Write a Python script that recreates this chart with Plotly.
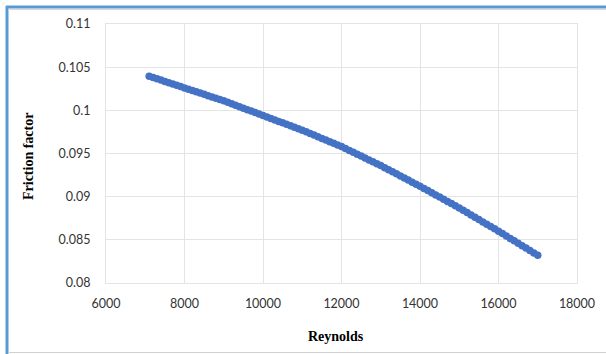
import plotly.graph_objects as go

reynolds = list(range(7100, 17001, 100))
friction = [
    0.10395, 0.10380, 0.10365, 0.10350, 0.10335, 0.10320, 0.10305, 0.10290, 0.10275, 0.10260,
    0.10245, 0.10230, 0.10215, 0.10200, 0.10185, 0.10170, 0.10155, 0.10140, 0.10125, 0.10110,
    0.10093, 0.10076, 0.10059, 0.10042, 0.10025, 0.10008, 0.09991, 0.09974, 0.09957, 0.09940,
    0.09923, 0.09906, 0.09889, 0.09872, 0.09855, 0.09838, 0.09821, 0.09804, 0.09787, 0.09770,
    0.09751, 0.09732, 0.09713, 0.09694, 0.09675, 0.09656, 0.09637, 0.09618, 0.09599, 0.09580,
    0.09558, 0.09536, 0.09514, 0.09492, 0.09470, 0.09448, 0.09426, 0.09404, 0.09382, 0.09360,
    0.09336, 0.09312, 0.09288, 0.09264, 0.09240, 0.09216, 0.09192, 0.09168, 0.09144, 0.09120,
    0.09095, 0.09070, 0.09045, 0.09020, 0.08995, 0.08970, 0.08945, 0.08920, 0.08895, 0.08870,
    0.08843, 0.08816, 0.08789, 0.08762, 0.08735, 0.08708, 0.08681, 0.08654, 0.08627, 0.08600,
    0.08572, 0.08544, 0.08516, 0.08488, 0.08460, 0.08432, 0.08404, 0.08376, 0.08348, 0.08320,
]

x_ticks = [6000, 8000, 10000, 12000, 14000, 16000, 18000]
y_ticks = [0.08, 0.085, 0.09, 0.095, 0.1, 0.105, 0.11]
y_tick_text = ["0.08", "0.085", "0.09", "0.095", "0.1", "0.105", "0.11"]

fig = go.Figure()
fig.add_trace(go.Scatter(
    x=reynolds, y=friction, mode="markers",
    marker=dict(color="#4472C4", size=7.5, line=dict(width=0)),
    showlegend=False,
))

W, H = 606, 354
L, R, T, B = 106, 577, 24, 283
def px(x):
    return (x - L) / (R - L)
def py(y):
    return (B - y) / (B - T)

grid = "#e4e4e4"
tickfont = dict(family="Lato, 'Open Sans', sans-serif", size=12.5, color="#333333")

fig.update_layout(
    width=W, height=H,
    margin=dict(l=L, r=W - R, t=T, b=H - B),
    paper_bgcolor="white", plot_bgcolor="white",
    xaxis=dict(range=[6000, 18000], tickvals=x_ticks, ticktext=[str(v) for v in x_ticks],
               showgrid=True, gridcolor=grid, gridwidth=1, zeroline=False,
               showline=True, mirror=True, linecolor=grid, linewidth=1,
               ticks="", tickfont=tickfont, ticklabelstandoff=9),
    yaxis=dict(range=[0.08, 0.11], tickvals=y_ticks, ticktext=y_tick_text,
               showgrid=True, gridcolor=grid, gridwidth=1, zeroline=False,
               showline=True, mirror=True, linecolor=grid, linewidth=1,
               ticks="", tickfont=tickfont, ticklabelstandoff=12),
    annotations=[
        dict(text="<b>Friction factor</b>", x=px(28), y=py(157), xref="paper", yref="paper",
             textangle=-90, showarrow=False, xanchor="center", yanchor="middle",
             font=dict(family="'Liberation Serif', 'Times New Roman', serif", size=14, color="black")),
        dict(text="<b>Reynolds</b>", x=px(336), y=py(336), xref="paper", yref="paper",
             showarrow=False, xanchor="center", yanchor="middle",
             font=dict(family="'Liberation Serif', 'Times New Roman', serif", size=14, color="black")),
    ],
    shapes=[
        dict(type="line", xref="paper", yref="paper", x0=px(7), x1=px(7), y0=py(6), y1=py(354),
             line=dict(color="#5B9BD5", width=3)),
        dict(type="line", xref="paper", yref="paper", x0=px(6), x1=px(610), y0=py(7), y1=py(7),
             line=dict(color="#5B9BD5", width=3)),
        dict(type="line", xref="paper", yref="paper", x0=px(8), x1=px(610), y0=py(9.5), y1=py(9.5),
             line=dict(color="#d8d8d8", width=1)),
        dict(type="line", xref="paper", yref="paper", x0=px(8), x1=px(610), y0=py(352.5), y1=py(352.5),
             line=dict(color="#d0d0d0", width=1)),
    ],
)

fig.write_html("out.html", config={"displayModeBar": False, "staticPlot": True},
               post_script="document.body.style.margin='0';document.body.style.overflow='hidden';")
